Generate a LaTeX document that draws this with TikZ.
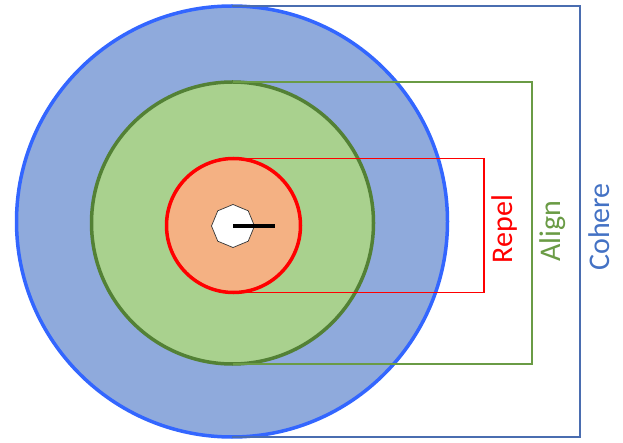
\documentclass[tikz,border=0pt]{standalone}
\usepackage{fontspec}
\setmainfont{Carlito}
\usetikzlibrary{shapes.geometric}
\definecolor{cohereline}{HTML}{3366FF}
\definecolor{coherefill}{HTML}{8FAADC}
\definecolor{coherebrk}{HTML}{4A6DB0}
\definecolor{coheretxt}{HTML}{4472C4}
\definecolor{alignline}{HTML}{538135}
\definecolor{alignfill}{HTML}{A9D18E}
\definecolor{alignbrk}{HTML}{6A9B45}
\definecolor{repelline}{HTML}{FF0000}
\definecolor{repelfill}{HTML}{F4B183}
\begin{document}
\begin{tikzpicture}[x=1pt,y=-1pt,
  zone/.style={circle,inner sep=0pt,outer sep=0pt,line width=3.5pt},
  brk/.style={line width=1.8pt},
  lbl/.style={rotate=90,font=\fontsize{30}{32}\selectfont,inner sep=0pt}]
\useasboundingbox (0,0) rectangle (623,443);
% concentric neighbourhood zones
\node[zone,draw=cohereline,fill=coherefill,minimum size=431pt] (cohere) at (232,221.5) {};
\node[zone,draw=alignline,fill=alignfill,minimum size=282pt] (align) at (232.5,223) {};
\node[zone,draw=repelline,fill=repelfill,minimum size=134pt] (repel) at (233.5,225.5) {};
% the agent itself
\node[regular polygon,regular polygon sides=8,shape border rotate=22.5,draw=black!80,
      fill=white,line width=0.7pt,minimum size=43pt,inner sep=0pt] (agent) at (233,226) {};
\coordinate (head) at (275,226);
\draw[line width=4pt] (agent.center) -- (head);
% brackets marking each radius
\coordinate (rx) at (484,0);
\coordinate (ax) at (532,0);
\coordinate (cx) at (580,0);
\draw[brk,coherebrk] (cohere.north) -- (cohere.north -| cx) -- (cohere.south -| cx) -- (cohere.south);
\draw[brk,alignbrk] (align.north) -- (align.north -| ax) -- (align.south -| ax) -- (align.south);
\draw[brk,repelline] (repel.north) -- (repel.north -| rx) -- (repel.south -| rx) -- (repel.south);
% labels
\node[lbl,text=repelline] (repeltxt) at (504,229) {Repel};
\node[lbl,text=alignbrk] (aligntxt) at (553,231) {Align};
\node[lbl,text=coheretxt] (coheretxt) at (599,227) {Cohere};
\end{tikzpicture}
\end{document}
